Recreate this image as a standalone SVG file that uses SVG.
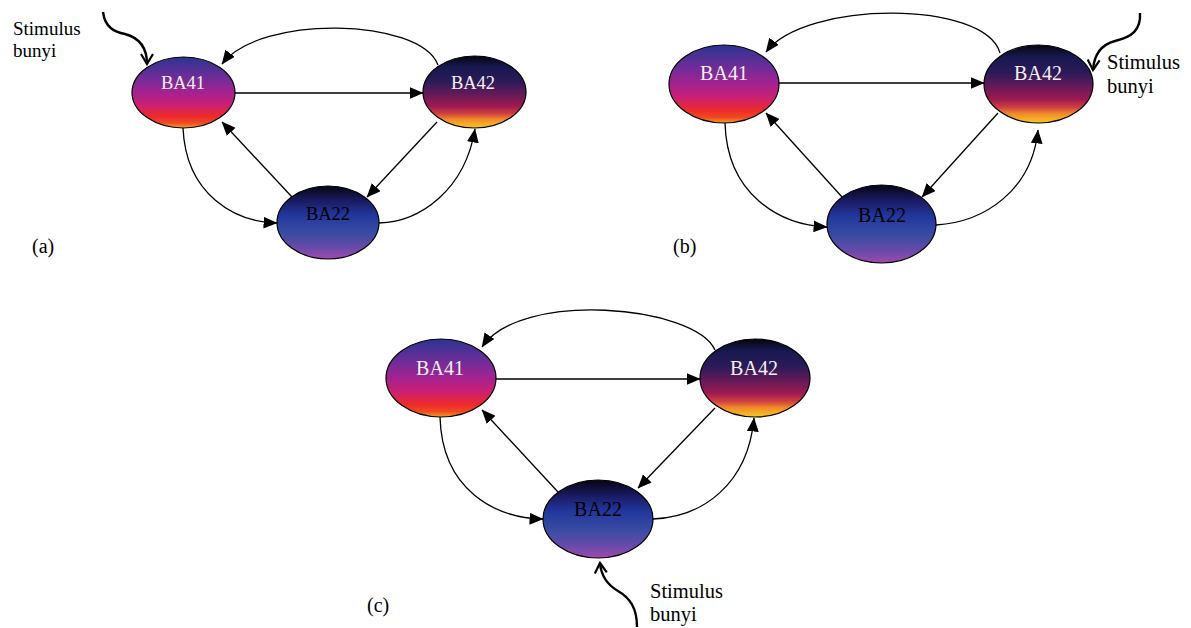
<svg xmlns="http://www.w3.org/2000/svg" width="1191" height="628" viewBox="0 0 1191 628">
<defs>
<linearGradient id="g41" x1="0" y1="0" x2="0" y2="1">
<stop offset="0" stop-color="#2a3592"/>
<stop offset="0.3" stop-color="#722c98"/>
<stop offset="0.5" stop-color="#a42290"/>
<stop offset="0.68" stop-color="#cc2072"/>
<stop offset="0.84" stop-color="#ee2a2a"/>
<stop offset="0.93" stop-color="#f04a22"/>
<stop offset="1" stop-color="#f5a020"/>
</linearGradient>
<linearGradient id="g42" x1="0" y1="0" x2="0" y2="1">
<stop offset="0" stop-color="#05050f"/>
<stop offset="0.15" stop-color="#181850"/>
<stop offset="0.35" stop-color="#2a1a58"/>
<stop offset="0.55" stop-color="#6a1a58"/>
<stop offset="0.7" stop-color="#a01a50"/>
<stop offset="0.8" stop-color="#d04040"/>
<stop offset="0.88" stop-color="#f08a2a"/>
<stop offset="1" stop-color="#f8c820"/>
</linearGradient>
<linearGradient id="g22" x1="0" y1="0" x2="0" y2="1">
<stop offset="0" stop-color="#050512"/>
<stop offset="0.2" stop-color="#1a1a62"/>
<stop offset="0.4" stop-color="#22379c"/>
<stop offset="0.65" stop-color="#3a4ca2"/>
<stop offset="0.85" stop-color="#6a4aaa"/>
<stop offset="1" stop-color="#a04aac"/>
</linearGradient>
<marker id="ah" markerUnits="userSpaceOnUse" markerWidth="14" markerHeight="12" viewBox="0 0 13 11" refX="12.5" refY="5.5" orient="auto">
<path d="M0,0 L13,5.5 L0,11 z" fill="#000"/>
</marker>
<marker id="sh" markerUnits="userSpaceOnUse" markerWidth="14" markerHeight="14" viewBox="0 0 14 14" refX="12" refY="7" orient="auto">
<path d="M2,1 L12,7 L2,13" fill="none" stroke="#000" stroke-width="2.2"/>
</marker>
<style>
.n{stroke:#000;stroke-width:1.2}
.c{fill:none;stroke:#000;stroke-width:1.3;marker-end:url(#ah)}
.s{fill:none;stroke:#000;stroke-width:2.4;marker-end:url(#sh)}
text{font-family:'Liberation Serif','Times New Roman',Times,serif}
.t{text-anchor:middle}
.w{fill:#f4f0f4}
.k{fill:#000}
.l{fill:#000}
</style>
</defs>
<rect width="1191" height="628" fill="#fff"/>

<g id="connectors">
<path class="c" d="M438,65 C420,18 260,14 222,64"/>
<path class="c" d="M235,93 L423,93"/>
<path class="c" d="M183,128 C186,195 235,222 277,223"/>
<path class="c" d="M292,197 L222,122"/>
<path class="c" d="M437,122 L367,197"/>
<path class="c" d="M379,223 C420,222 465,190 475,129"/>
<path class="s" d="M103,12 C105,28 115,32 125,34 C140,38 147,48 147,64"/>
<path class="c" d="M1000,53 C985,0 805,0 766,52"/>
<path class="c" d="M779,83 L984,83"/>
<path class="c" d="M725,123 C727,195 780,225 827,227"/>
<path class="c" d="M842,197 L766,113"/>
<path class="c" d="M998,113 L922,197"/>
<path class="c" d="M936,225 C985,222 1032,190 1038,130"/>
<path class="s" d="M1140,13 C1141,30 1132,37 1115,41 C1100,45 1094,55 1093,70"/>
<path class="c" d="M715,350 C695,305 520,290 482,347"/>
<path class="c" d="M496,379 L700,379"/>
<path class="c" d="M440,417 C442,490 495,518 543,519"/>
<path class="c" d="M558,492 L482,410"/>
<path class="c" d="M715,408 L638,488"/>
<path class="c" d="M653,519 C702,517 748,485 754,418"/>
<path class="s" d="M637,627 C637,608 630,598 618,591 C606,584 601,575 600,563"/>
</g>

<g id="a-BA41"><ellipse class="n" cx="183.5" cy="92.5" rx="51.5" ry="35.5" fill="url(#g41)"/><text class="t w" x="183" y="89" font-size="18.5">BA41</text></g>
<g id="a-BA42"><ellipse class="n" cx="474.5" cy="92" rx="51.5" ry="36" fill="url(#g42)"/><text class="t w" x="473" y="89" font-size="18.5">BA42</text></g>
<g id="a-BA22"><ellipse class="n" cx="328" cy="222.5" rx="51" ry="36.5" fill="url(#g22)"/><text class="t k" x="328" y="220" font-size="18.5">BA22</text></g>

<g id="b-BA41"><ellipse class="n" cx="724" cy="84" rx="55" ry="39" fill="url(#g41)"/><text class="t w" x="724" y="80" font-size="20">BA41</text></g>
<g id="b-BA42"><ellipse class="n" cx="1038.5" cy="84" rx="54.5" ry="39" fill="url(#g42)"/><text class="t w" x="1038" y="80" font-size="20">BA42</text></g>
<g id="b-BA22"><ellipse class="n" cx="881.5" cy="224" rx="54.5" ry="39" fill="url(#g22)"/><text class="t k" x="882" y="222" font-size="20">BA22</text></g>

<g id="c-BA41"><ellipse class="n" cx="441" cy="378" rx="55" ry="39" fill="url(#g41)"/><text class="t w" x="440" y="375" font-size="20">BA41</text></g>
<g id="c-BA42"><ellipse class="n" cx="755" cy="378" rx="55" ry="39" fill="url(#g42)"/><text class="t w" x="754" y="375" font-size="20">BA42</text></g>
<g id="c-BA22"><ellipse class="n" cx="598" cy="519" rx="55" ry="39" fill="url(#g22)"/><text class="t k" x="598" y="516" font-size="20">BA22</text></g>

<g id="labels">
<text class="l" x="13" y="35" font-size="19">Stimulus</text>
<text class="l" x="13" y="57" font-size="19">bunyi</text>
<text class="l" x="1107" y="69" font-size="20.5">Stimulus</text>
<text class="l" x="1107" y="93" font-size="20.5">bunyi</text>
<text class="l" x="650" y="598" font-size="20.5">Stimulus</text>
<text class="l" x="650" y="621" font-size="20.5">bunyi</text>
<text class="l" x="32" y="253" font-size="20">(a)</text>
<text class="l" x="673" y="253" font-size="20">(b)</text>
<text class="l" x="367" y="612" font-size="20">(c)</text>
</g>
</svg>
